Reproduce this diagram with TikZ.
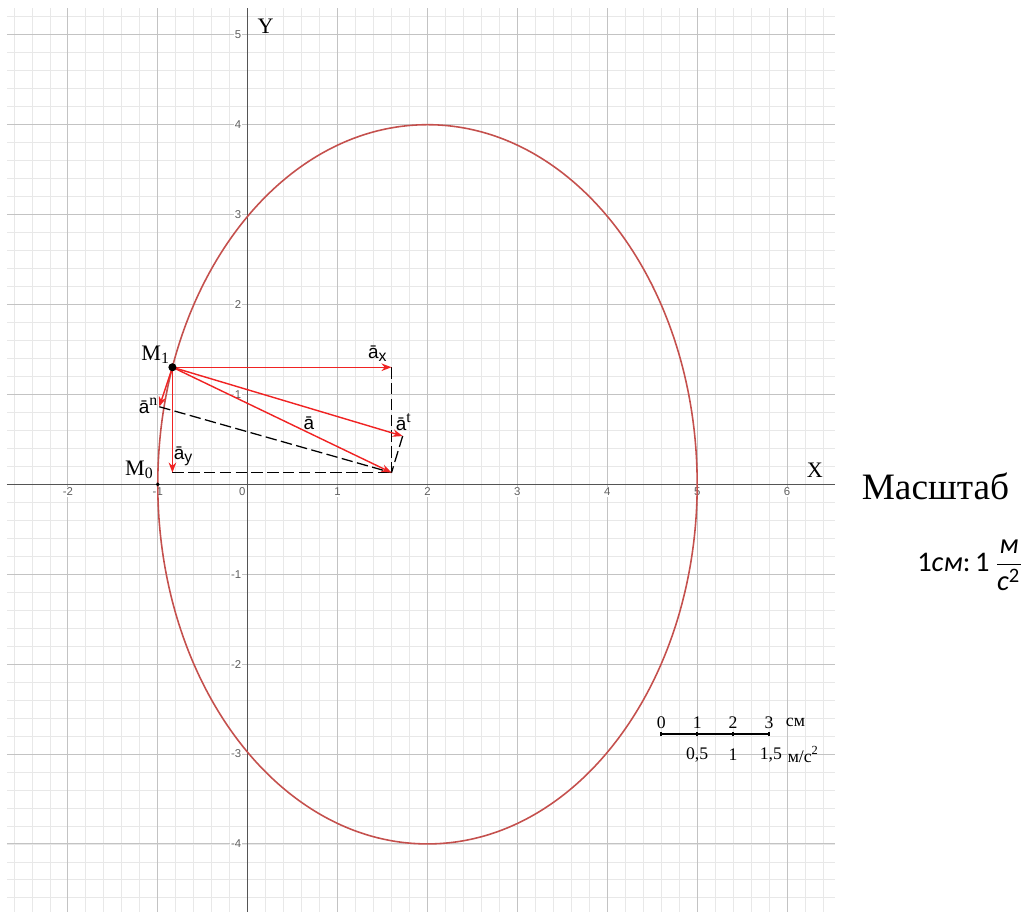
\documentclass[tikz,border=0pt]{standalone}
\usepackage{fontspec}
\setmainfont{Liberation Serif}
\newfontfamily\arialf{Liberation Sans}
\newfontfamily\calibf{Carlito}
\usetikzlibrary{arrows.meta}
\definecolor{ellred}{RGB}{196,80,77}
\definecolor{vecred}{RGB}{240,35,35}
\definecolor{minorgrid}{RGB}{232,232,232}
\definecolor{majorgrid}{RGB}{195,195,195}
\definecolor{axisgray}{RGB}{85,85,85}
\definecolor{ticktext}{RGB}{95,95,95}
\tikzset{
  vec/.style={vecred, line width=0.45pt, -{Stealth[length=3.2pt,width=2.4pt]}},
  helper/.style={black, line width=0.4pt, dash pattern=on 3.6pt off 1.4pt},
  veclabel/.style={font=\arialf\fontsize{6}{7}\selectfont, inner sep=0.4pt},
  mlabel/.style={font=\fontsize{7}{8}\selectfont, inner sep=0.4pt},
  ticklabel/.style={font=\arialf\fontsize{3.6}{4}\selectfont, text=ticktext, fill=white, inner sep=0.3pt},
  scaletext/.style={font=\fontsize{5.6}{6.5}\selectfont, inner sep=0.3pt},
}
\begin{document}
\begin{tikzpicture}
\useasboundingbox (-2.755,-4.757) rectangle (8.713,5.387);
% grid and axes
\draw[minorgrid, line width=0.25pt, step=0.2] (-2.678,-4.757) grid (6.533,5.298);
\draw[majorgrid, line width=0.3pt, step=1] (-2.678,-4.757) grid (6.533,5.298);
\draw[axisgray, line width=0.5pt] (-2.678,0) -- (6.533,0);
\draw[axisgray, line width=0.5pt] (0,-4.757) -- (0,5.298);
\foreach \x in {-2,-1,1,2,3,4,5,6}
  \node[ticklabel] (tx\x) at (\x,-0.085) {\x};
\node[ticklabel] (tx0) at (-0.06,-0.085) {0};
\foreach \y in {-4,-3,-2,-1,1,2,3,4,5}
  \node[ticklabel, anchor=east] (ty\y) at (-0.055,\y) {\y};
\node[mlabel] (ylabel) at (0.20,5.09) {Y};
\node[mlabel] (xlabel) at (6.31,0.16) {X};
% trajectory
\draw[ellred, line width=0.5pt] (2,0) ellipse [x radius=3, y radius=4];
% points and vector tips
\coordinate (M1) at (-0.837,1.302);
\coordinate (M0) at (-1,0);
\coordinate (ax) at (1.60,1.302);
\coordinate (ay) at (-0.837,0.13);
\coordinate (a) at (1.60,0.13);
\coordinate (at) at (1.724,0.537);
\coordinate (an) at (-0.983,0.863);
\draw[helper] (ax) -- (a);
\draw[helper] (ay) -- (a);
\draw[helper] (an) -- (a);
\draw[helper] (at) -- (a);
\draw[vec] (M1) -- (ax);
\draw[vec] (M1) -- (ay);
\draw[vec] (M1) -- (a);
\draw[vec] (M1) -- (at);
\draw[vec] (M1) -- (an);
\fill (M1) circle (0.045);
\fill (M0) circle (0.022);
\node[mlabel] (lM1) at (-1.02,1.44) {M\textsubscript{1}};
\node[mlabel] (lM0) at (-1.20,0.16) {M\textsubscript{0}};
\node[veclabel] (lax) at (1.45,1.45) {ā\textsubscript{x}};
\node[veclabel] (lay) at (-0.71,0.31) {ā\textsubscript{y}};
\node[veclabel] (la) at (0.68,0.68) {ā};
\node[veclabel] (lat) at (1.74,0.69) {ā\textsuperscript{\rmfamily t}};
\node[veclabel] (lan) at (-1.10,0.87) {ā\textsuperscript{\rmfamily n}};
% scale bar
\coordinate (s0) at (4.60,-2.78);
\coordinate (s3) at (5.80,-2.78);
\draw[line width=0.6pt] (s0) -- (s3);
\foreach \i/\xx in {0/4.60,1/5.00,2/5.40,3/5.80} {
  \draw[line width=0.5pt] (\xx,-2.805) -- (\xx,-2.755);
  \node[scaletext] (sc\i) at (\xx,-2.65) {\i};
}
\node[scaletext, anchor=west] (cm) at (5.97,-2.65) {см};
\node[scaletext] (v1) at (5.00,-3.01) {0,5};
\node[scaletext] (v2) at (5.40,-3.01) {1};
\node[scaletext] (v3) at (5.82,-3.01) {1,5};
\node[scaletext, anchor=west] (unit) at (5.99,-3.01) {м/с\textsuperscript{2}};
% legend
\node[font=\fontsize{11.8}{14}\selectfont, anchor=base] (title) at (7.65,-0.165) {Масштаб};
\node[font=\calibf\fontsize{9}{11}\selectfont, anchor=base] (ratio) at (8.046,-0.972)
  {1\textit{см}:\kern1.5pt1\kern1.2pt$\displaystyle\frac{\mbox{\calibf\itshape м}}{\mbox{\calibf\itshape с}^{\mbox{\calibf\fontsize{6.5}{7}\selectfont 2}}}$};
\end{tikzpicture}
\end{document}
